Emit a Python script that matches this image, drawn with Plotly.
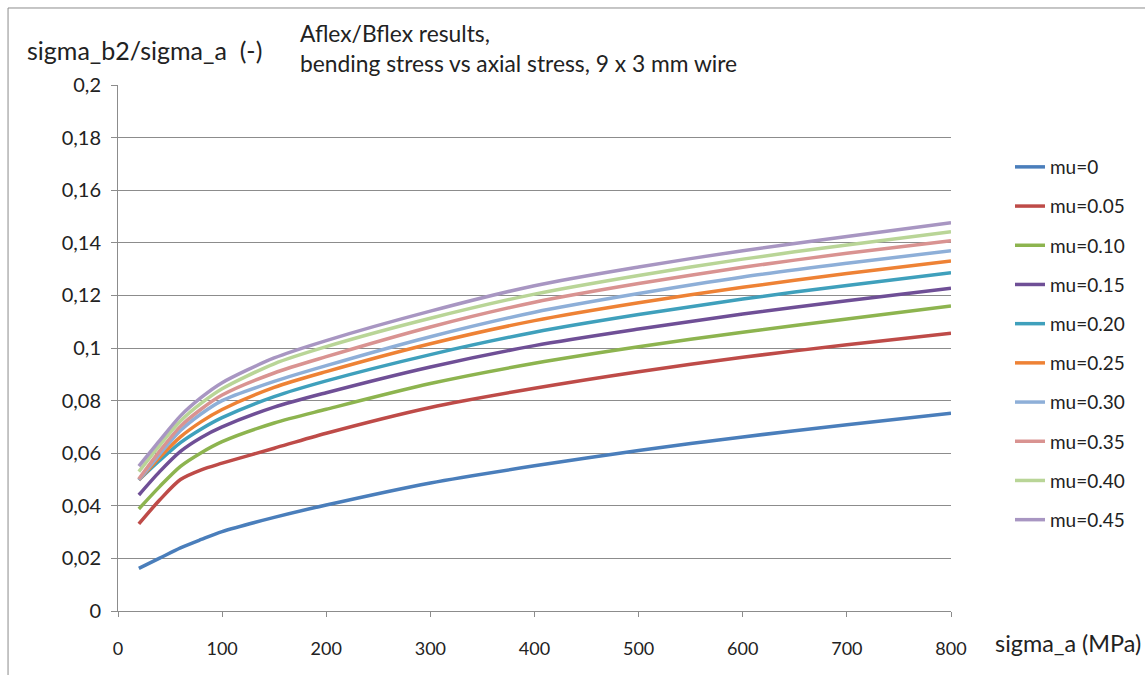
import plotly.graph_objects as go

# Axial stress sample points (MPa)
sigma_a = [20, 40, 60, 80, 100, 150, 200, 300, 400, 500, 600, 700, 800]

# Bending/axial stress ratio per friction coefficient
mu_0    = [0.0162, 0.0201, 0.0240, 0.0272, 0.0302, 0.0356, 0.0403, 0.0487, 0.0552, 0.0610, 0.0662, 0.0708, 0.0752]
mu_0_05 = [0.0331, 0.0422, 0.0500, 0.0537, 0.0562, 0.0619, 0.0676, 0.0774, 0.0847, 0.0910, 0.0965, 0.1012, 0.1056]
mu_0_10 = [0.0388, 0.0473, 0.0550, 0.0602, 0.0644, 0.0715, 0.0767, 0.0865, 0.0942, 0.1005, 0.1060, 0.1110, 0.1160]
mu_0_15 = [0.0441, 0.0530, 0.0607, 0.0660, 0.0700, 0.0775, 0.0830, 0.0928, 0.1009, 0.1072, 0.1129, 0.1180, 0.1227]
mu_0_20 = [0.0498, 0.0572, 0.0640, 0.0692, 0.0735, 0.0815, 0.0875, 0.0975, 0.1060, 0.1127, 0.1186, 0.1238, 0.1286]
mu_0_25 = [0.0498, 0.0584, 0.0662, 0.0720, 0.0766, 0.0850, 0.0910, 0.1016, 0.1104, 0.1172, 0.1231, 0.1283, 0.1331]
mu_0_30 = [0.0498, 0.0596, 0.0686, 0.0750, 0.0800, 0.0873, 0.0933, 0.1043, 0.1136, 0.1207, 0.1270, 0.1322, 0.1370]
mu_0_35 = [0.0502, 0.0608, 0.0702, 0.0768, 0.0821, 0.0905, 0.0967, 0.1080, 0.1174, 0.1245, 0.1307, 0.1360, 0.1408]
mu_0_40 = [0.0530, 0.0630, 0.0722, 0.0790, 0.0845, 0.0940, 0.1005, 0.1113, 0.1205, 0.1276, 0.1338, 0.1392, 0.1442]
mu_0_45 = [0.0551, 0.0648, 0.0742, 0.0812, 0.0868, 0.0962, 0.1028, 0.1140, 0.1237, 0.1308, 0.1370, 0.1424, 0.1476]

series_names = ["mu=0", "mu=0.05", "mu=0.10", "mu=0.15", "mu=0.20",
                "mu=0.25", "mu=0.30", "mu=0.35", "mu=0.40", "mu=0.45"]
series_values = [mu_0, mu_0_05, mu_0_10, mu_0_15, mu_0_20,
                 mu_0_25, mu_0_30, mu_0_35, mu_0_40, mu_0_45]
series_colors = ["#4A7EBB", "#BE4B48", "#8DB44F", "#6F4F96", "#3FA0BC",
                 "#EE8235", "#8EAFD8", "#D99391", "#B9D597", "#A896C2"]

y_tickvals = [0, 0.02, 0.04, 0.06, 0.08, 0.1, 0.12, 0.14, 0.16, 0.18, 0.2]
y_ticktext = ["0", "0,02", "0,04", "0,06", "0,08", "0,1", "0,12", "0,14", "0,16", "0,18", "0,2"]
x_tickvals = [0, 100, 200, 300, 400, 500, 600, 700, 800]

FONT = "Lato, 'Open Sans', sans-serif"
GRID = "#8C8C8C"
TEXT = "#222222"

fig = go.Figure()
for i, (name, vals, col) in enumerate(zip(series_names, series_values, series_colors)):
    fig.add_trace(go.Scatter(
        x=sigma_a, y=vals, name=name, mode="lines",
        line=dict(color=col, width=3.5, shape="spline", smoothing=0.8),
        legendgroup=f"g{i}",
    ))

fig.update_layout(
    width=1145, height=675,
    margin=dict(l=118, r=194, t=85, b=64, autoexpand=False),
    paper_bgcolor="white", plot_bgcolor="white",
    font=dict(family=FONT, color=TEXT, size=19),
    showlegend=True,
    legend=dict(
        x=1.0708, xanchor="left", y=0.8802, yanchor="top",
        font=dict(family=FONT, size=19, color=TEXT),
        tracegroupgap=11.5, itemwidth=30, bgcolor="rgba(0,0,0,0)",
    ),
    xaxis=dict(
        range=[0, 800], tickvals=x_tickvals, ticks="outside", ticklen=5,
        tickcolor=GRID, showline=True, linecolor=GRID, linewidth=1,
        showgrid=False, zeroline=False, tickfont=dict(size=18, color=TEXT),
        ticklabelstandoff=16,
    ),
    yaxis=dict(
        range=[0, 0.2], tickvals=y_tickvals, ticktext=y_ticktext,
        ticks="outside", ticklen=6, tickcolor=GRID, showline=True,
        linecolor=GRID, linewidth=1, showgrid=True, gridcolor=GRID,
        gridwidth=1, zeroline=False, tickfont=dict(size=20, color=TEXT),
        ticklabelstandoff=6,
    ),
    shapes=[dict(type="rect", xref="paper", yref="paper",
                 x0=-0.132, x1=1.4, y0=-0.3, y1=1.1464,
                 line=dict(color=GRID, width=1), layer="below")],
    annotations=[
        dict(text="sigma_b2/sigma_a  (-)", xref="paper", yref="paper",
             x=-0.1116, y=1.0665, xanchor="left", yanchor="middle",
             showarrow=False, font=dict(size=25, family=FONT, color=TEXT)),
        dict(text="Aflex/Bflex results,", xref="paper", yref="paper",
             x=0.2161, y=1.0989, xanchor="left", yanchor="middle",
             showarrow=False, font=dict(size=22.8, family=FONT, color=TEXT)),
        dict(text="bending stress vs axial stress, 9 x 3 mm wire", xref="paper", yref="paper",
             x=0.2161, y=1.0418, xanchor="left", yanchor="middle",
             showarrow=False, font=dict(size=22.8, family=FONT, color=TEXT)),
        dict(text="sigma_a (MPa)", xref="paper", yref="paper",
             x=1.0504, y=-0.0608, xanchor="left", yanchor="middle",
             showarrow=False, font=dict(size=23.4, family=FONT, color=TEXT)),
    ],
)

fig.write_html("out.html")
